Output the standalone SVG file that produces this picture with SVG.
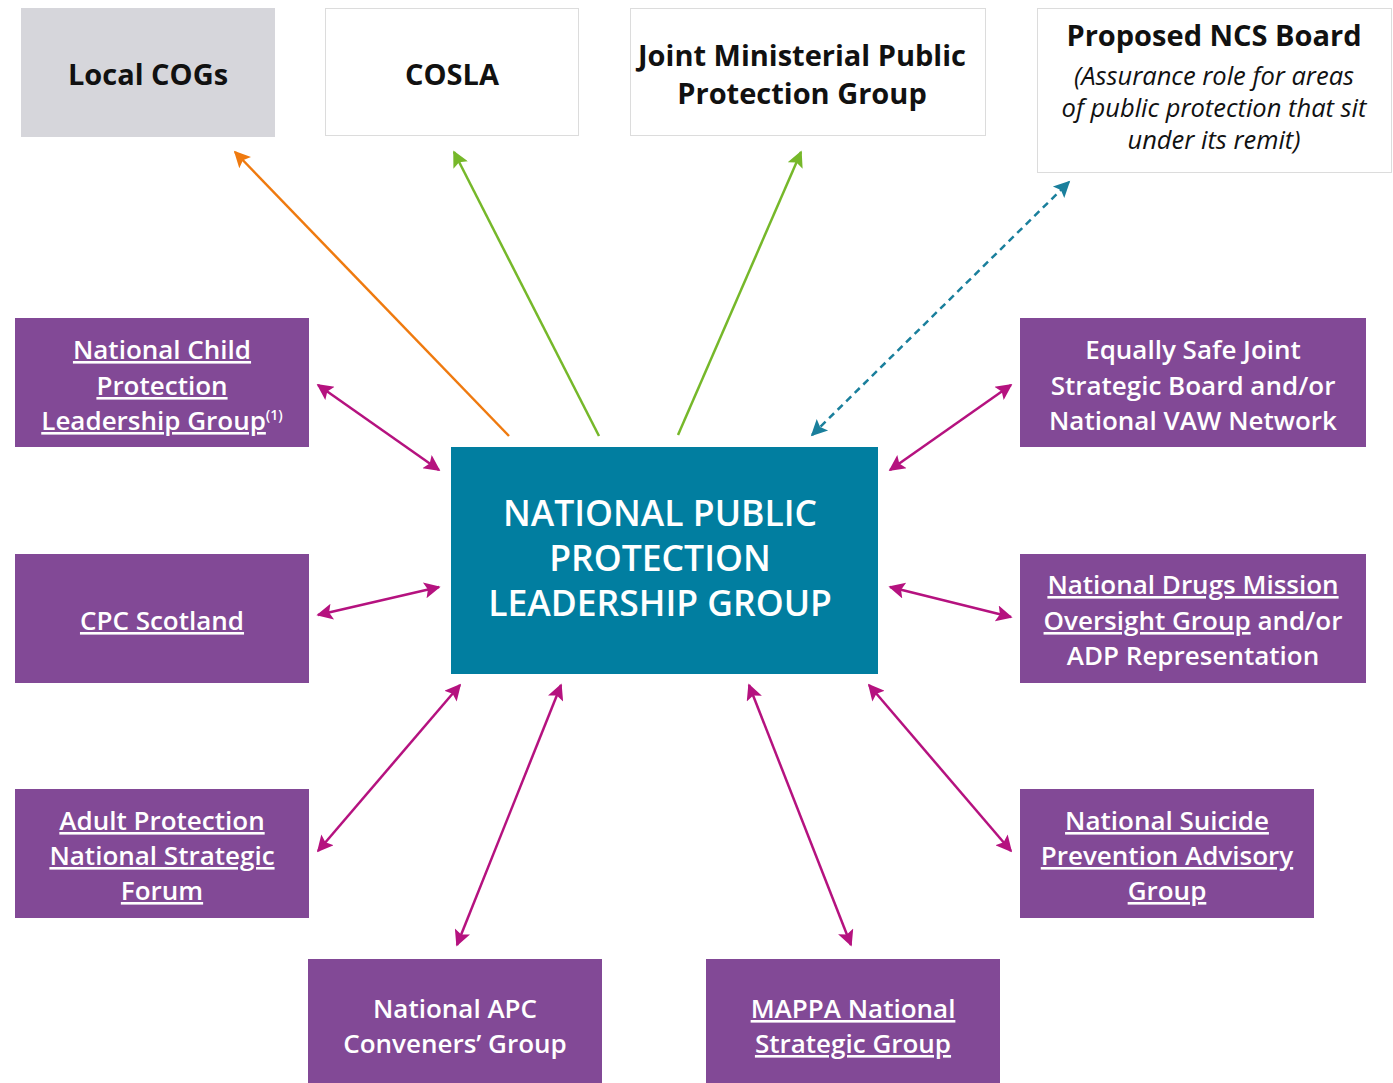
<svg xmlns="http://www.w3.org/2000/svg" width="1393" height="1083" viewBox="0 0 1393 1083">
<style>
.top{font-family:"Open Sans","Liberation Sans",sans-serif;font-weight:700;font-size:29px;fill:#111;text-anchor:middle}
.it{font-family:"Open Sans","Liberation Sans",sans-serif;font-style:italic;font-size:25.5px;fill:#111;text-anchor:middle}
.p{fill:#824996}
.pt{font-family:"Open Sans","Liberation Sans",sans-serif;font-weight:600;font-size:26px;fill:#fff;text-anchor:middle}
.u{text-decoration:underline}
.c{font-family:"Open Sans","Liberation Sans",sans-serif;font-weight:600;font-size:35.5px;fill:#fff;text-anchor:middle}
.m{stroke:#b5127f;stroke-width:2.5;fill:none;marker-start:url(#am);marker-end:url(#am)}
</style>
<defs>
<marker id="am" viewBox="0 0 10 10" refX="9" refY="5" markerWidth="7.5" markerHeight="6.5" markerUnits="strokeWidth" orient="auto-start-reverse"><path d="M0,0 L10,5 L0,10 L2,5 z" fill="#b5127f"/></marker>
<marker id="ao" viewBox="0 0 10 10" refX="9" refY="5" markerWidth="7.5" markerHeight="6.5" markerUnits="strokeWidth" orient="auto"><path d="M0,0 L10,5 L0,10 L2,5 z" fill="#ef7a0f"/></marker>
<marker id="ag" viewBox="0 0 10 10" refX="9" refY="5" markerWidth="7.5" markerHeight="6.5" markerUnits="strokeWidth" orient="auto"><path d="M0,0 L10,5 L0,10 L2,5 z" fill="#76b82a"/></marker>
<marker id="at" viewBox="0 0 10 10" refX="9" refY="5" markerWidth="7.5" markerHeight="6.5" markerUnits="strokeWidth" orient="auto-start-reverse"><path d="M0,0 L10,5 L0,10 L2,5 z" fill="#1a7f9c"/></marker>
</defs>
<rect width="1393" height="1083" fill="#fff"/>
<g id="connectors">
<line x1="509" y1="436" x2="235" y2="152" stroke="#ef7a0f" stroke-width="2.5" marker-end="url(#ao)"/>
<line x1="599" y1="436" x2="454" y2="152" stroke="#76b82a" stroke-width="2.5" marker-end="url(#ag)"/>
<line x1="678" y1="435" x2="801" y2="152" stroke="#76b82a" stroke-width="2.5" marker-end="url(#ag)"/>
<line x1="812" y1="435" x2="1069" y2="182" stroke="#1a7f9c" stroke-width="2.5" stroke-dasharray="7,5" marker-start="url(#at)" marker-end="url(#at)"/>
<line class="m" x1="318" y1="385" x2="439" y2="470"/>
<line class="m" x1="318" y1="615" x2="439" y2="587"/>
<line class="m" x1="318" y1="851" x2="460" y2="685"/>
<line class="m" x1="457" y1="945" x2="561" y2="685"/>
<line class="m" x1="749" y1="685" x2="851" y2="945"/>
<line class="m" x1="869" y1="685" x2="1011" y2="851"/>
<line class="m" x1="890" y1="587" x2="1011" y2="617"/>
<line class="m" x1="890" y1="470" x2="1011" y2="385"/>
</g>
<g id="local-cogs"><rect x="21" y="8" width="254" height="129" fill="#d6d6db"/><text class="top" x="148" y="85">Local COGs</text></g>
<g id="cosla"><rect x="325.5" y="8.5" width="253" height="127" fill="#fff" stroke="#dcdcdc"/><text class="top" x="452" y="85">COSLA</text></g>
<g id="joint-ministerial"><rect x="630.5" y="8.5" width="355" height="127" fill="#fff" stroke="#dcdcdc"/><text class="top" x="802" y="66">Joint Ministerial Public</text><text class="top" x="802" y="104">Protection Group</text></g>
<g id="ncs-board"><rect x="1037.5" y="8.5" width="354" height="164" fill="#fff" stroke="#dcdcdc"/><text class="top" x="1214" y="46">Proposed NCS Board</text><text class="it" x="1214" y="85">(Assurance role for areas</text><text class="it" x="1214" y="117">of public protection that sit</text><text class="it" x="1214" y="149">under its remit)</text></g>
<g id="center"><rect x="451" y="447" width="427" height="227" fill="#017ea0"/><text class="c" x="660" y="526">NATIONAL PUBLIC</text><text class="c" x="660" y="571">PROTECTION</text><text class="c" x="660" y="616">LEADERSHIP GROUP</text></g>
<g id="child-protection"><rect class="p" x="15" y="318" width="294" height="129"/><text class="pt u" x="162" y="359">National Child </text><text class="pt u" x="162" y="395">Protection </text><text class="pt" x="162" y="430"><tspan class="u">Leadership Group</tspan><tspan font-size="14" dy="-10">(1)</tspan></text></g>
<g id="cpc-scotland"><rect class="p" x="15" y="554" width="294" height="129"/><text class="pt u" x="162" y="630">CPC Scotland</text></g>
<g id="adult-protection"><rect class="p" x="15" y="789" width="294" height="129"/><text class="pt u" x="162" y="830">Adult Protection </text><text class="pt u" x="162" y="865">National  Strategic </text><text class="pt u" x="162" y="900">Forum</text></g>
<g id="apc-conveners"><rect class="p" x="308" y="959" width="294" height="124"/><text class="pt" x="455" y="1018">National APC</text><text class="pt" x="455" y="1053">Conveners’ Group</text></g>
<g id="mappa"><rect class="p" x="706" y="959" width="294" height="124"/><text class="pt u" x="853" y="1018">MAPPA National </text><text class="pt u" x="853" y="1053">Strategic Group </text></g>
<g id="suicide-prevention"><rect class="p" x="1020" y="789" width="294" height="129"/><text class="pt u" x="1167" y="830">National Suicide </text><text class="pt u" x="1167" y="865">Prevention Advisory </text><text class="pt u" x="1167" y="900">Group</text></g>
<g id="drugs-mission"><rect class="p" x="1020" y="554" width="346" height="129"/><text class="pt u" x="1193" y="594">National Drugs Mission </text><text class="pt" x="1193" y="630"><tspan class="u">Oversight Group</tspan> and/or</text><text class="pt" x="1193" y="665">ADP Representation</text></g>
<g id="equally-safe"><rect class="p" x="1020" y="318" width="346" height="129"/><text class="pt" x="1193" y="359">Equally Safe Joint</text><text class="pt" x="1193" y="395">Strategic Board and/or</text><text class="pt" x="1193" y="430">National VAW Network</text></g>
</svg>
